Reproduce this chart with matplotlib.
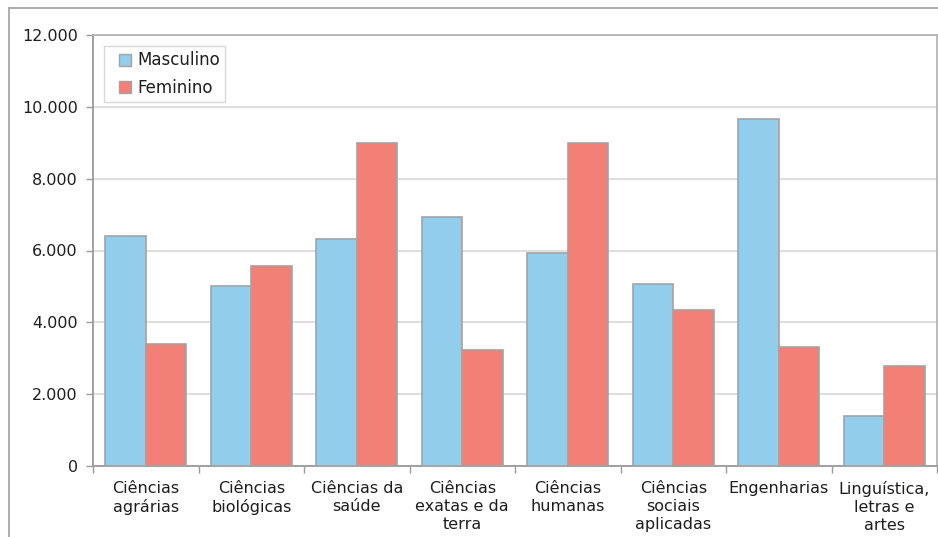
import numpy as np
import matplotlib
matplotlib.use('Agg')
from matplotlib import pyplot as plt
from matplotlib.lines import Line2D
from matplotlib.ticker import FuncFormatter, FixedLocator

### DATA
categories = [
    'Ciências\nagrárias',
    'Ciências\nbiológicas',
    'Ciências da\nsaúde',
    'Ciências\nexatas e da\nterra',
    'Ciências\nhumanas',
    'Ciências\nsociais\naplicadas',
    'Engenharias',
    'Linguística,\nletras e\nartes',
]
series_names = ['Masculino', 'Feminino']
masculino = [6400, 5010, 6320, 6940, 5920, 5060, 9670, 1380]
feminino = [3390, 5560, 9000, 3230, 9000, 4340, 3320, 2790]
y_ticks = [0, 2000, 4000, 6000, 8000, 10000, 12000]

### STYLE
blue = '#92CDEB'
red = '#F38077'
edge = '#A3A3A3'
grid_col = '#D9D9D9'
axis_col = '#9A9A9A'
text_col = '#1E1E1E'
plt.rcParams['font.family'] = ['DejaVu Sans']
fs = 11.5

fig = plt.figure(figsize = (9.38, 5.37), dpi = 100)
ax = fig.add_axes([93 / 938, 1 - 466 / 537, 844 / 938, 431 / 537])

x = np.arange(len(categories))
w = 0.386
ax.bar(x - w / 2, masculino, w, color = blue, edgecolor = edge, linewidth = 1.2, zorder = 3)
ax.bar(x + w / 2, feminino, w, color = red, edgecolor = edge, linewidth = 1.2, zorder = 3)

ax.set_xlim(-0.5, len(categories) - 0.5)
ax.set_ylim(0, 12000)
ax.set_yticks(y_ticks)
ax.yaxis.set_major_formatter(FuncFormatter(lambda v, _: f'{int(v):,}'.replace(',', '.')))
ax.yaxis.grid(True, color = grid_col, linewidth = 1.2, zorder = 0)
ax.set_axisbelow(True)

# category labels centred on groups, tick marks on group boundaries
ax.xaxis.set_major_locator(FixedLocator(np.arange(len(categories) + 1) - 0.5))
ax.set_xticklabels([])
ax.tick_params(axis = 'x', which = 'major', length = 5, color = axis_col, width = 1)
for i, c in enumerate(categories):
    ax.text(i, -420, c, ha = 'center', va = 'top', fontsize = fs, color = text_col, linespacing = 1.25)
ax.tick_params(axis = 'y', length = 5, color = axis_col, width = 1, labelsize = fs, labelcolor = text_col, pad = 6)

for side in ['left', 'bottom']:
    ax.spines[side].set_color(axis_col)
    ax.spines[side].set_linewidth(1.3)
for side in ['top', 'right']:
    ax.spines[side].set_color('#B0B0B0')
    ax.spines[side].set_linewidth(1.2)

# square legend keys
handles = [
    Line2D([], [], linestyle = 'none', marker = 's', markersize = 8.6,
           markerfacecolor = c, markeredgecolor = edge, markeredgewidth = 1.0)
    for c in (blue, red)
]
leg = ax.legend(
    handles, series_names,
    loc = 'upper left', bbox_to_anchor = (0.013, 0.9745), borderaxespad = 0,
    fontsize = 12, frameon = True, fancybox = False,
    handlelength = 1.85, handletextpad = -0.2, borderpad = 0.33, labelspacing = 0.55,
)
leg.get_frame().set_edgecolor('#CFCFCF')
leg.get_frame().set_linewidth(1.0)
for t in leg.get_texts():
    t.set_color(text_col)

# outer chart frame
fig.add_artist(Line2D([9 / 938, 9 / 938], [0, 1 - 8 / 537], color = '#A8A8A8', linewidth = 1.3, transform = fig.transFigure))
fig.add_artist(Line2D([9 / 938, 1], [1 - 8 / 537, 1 - 8 / 537], color = '#A8A8A8', linewidth = 1.3, transform = fig.transFigure))

fig.savefig('out.png', dpi = 100)
